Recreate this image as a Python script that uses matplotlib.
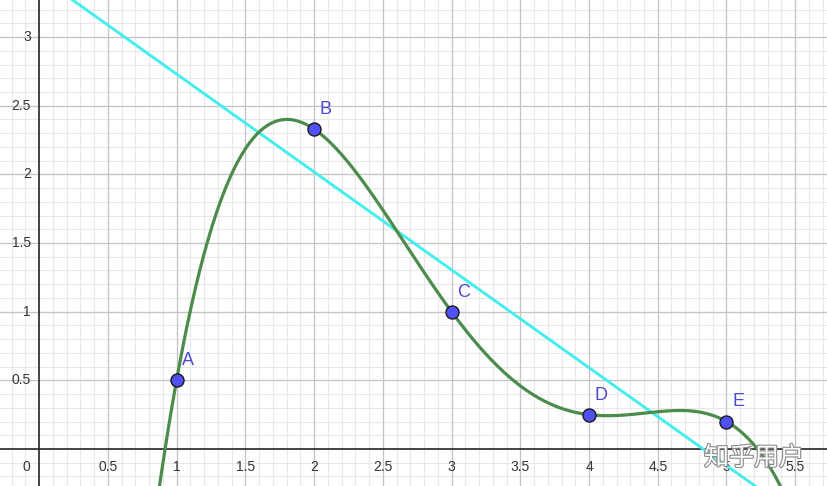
import numpy as np
import matplotlib
matplotlib.use("Agg")
import matplotlib.pyplot as plt
import matplotlib.patheffects as pe

# Data
point_names = ["A", "B", "C", "D", "E"]
point_x = [1, 2, 3, 4, 5]
point_y = [0.5, 2.33, 1.0, 0.25, 0.2]
line_slope = -0.713
line_intercept = 3.444
x_tick_vals = [0.5, 1, 1.5, 2, 2.5, 3, 3.5, 4, 4.5, 5, 5.5]
x_tick_labels = ["0.5", "1", "1.5", "2", "2.5", "3", "3.5", "4", "4.5", "5", "5.5"]
y_tick_vals = [0.5, 1, 1.5, 2, 2.5, 3]
y_tick_labels = ["0.5", "1", "1.5", "2", "2.5", "3"]

W, H = 827, 486
fig = plt.figure(figsize=(W / 100, H / 100), dpi=100)
ax = fig.add_axes([0, 0, 1, 1])
xmin, xmax = -0.284, 5.731
ymin, ymax = -0.2695, 3.270
ax.set_xlim(xmin, xmax)
ax.set_ylim(ymin, ymax)
ax.axis("off")

# Grid
for v in np.arange(-0.2, 5.8, 0.1):
    ax.axvline(v, color="#e8e8e8", lw=0.8, zorder=0)
for v in np.arange(-0.2, 3.3, 0.1):
    ax.axhline(v, color="#e8e8e8", lw=0.8, zorder=0)
for v in np.arange(0.5, 5.8, 0.5):
    ax.axvline(v, color="#c4c4c4", lw=0.9, zorder=0.5)
for v in np.arange(0.5, 3.3, 0.5):
    ax.axhline(v, color="#c4c4c4", lw=0.9, zorder=0.5)
ax.axvline(0, color="#262626", lw=1.2, zorder=1)
ax.axhline(0, color="#262626", lw=1.2, zorder=1)

# Tick labels
for v, s in zip(x_tick_vals, x_tick_labels):
    ax.annotate(s, (v, 0), xytext=(0, -8), textcoords="offset points",
                ha="center", va="top", fontsize=10, color="#333333",
                family="Liberation Sans")
for v, s in zip(y_tick_vals, y_tick_labels):
    ax.annotate(s, (0, v), xytext=(-6, 0), textcoords="offset points",
                ha="right", va="center", fontsize=10, color="#333333",
                family="Liberation Sans")
ax.annotate("0", (0, 0), xytext=(-6, -8), textcoords="offset points",
            ha="right", va="top", fontsize=10, color="#333333",
            family="Liberation Sans")

# Cyan line
lx = np.array([xmin, xmax])
ax.plot(lx, line_slope * lx + line_intercept, color="#45eeee", lw=2.1, zorder=3,
        solid_capstyle="butt")

# Green curve: interpolating polynomial through the points
coef = np.polyfit(point_x, point_y, len(point_x) - 1)
cx = np.linspace(xmin, xmax, 800)
ax.plot(cx, np.polyval(coef, cx), color="#4b8b4b", lw=2.3, zorder=4)

# Points
ax.scatter(point_x, point_y, s=88, color="#5050f5", edgecolor="#1a1a1a",
           linewidths=1.0, zorder=6)
for n, x, y in zip(point_names, point_x, point_y):
    ax.annotate(n, (x, y), xytext=(4, 8), textcoords="offset points",
                ha="left", va="bottom", fontsize=13, color="#4a4ad0",
                family="Liberation Sans", zorder=7)

# Watermark
ax.text(754 / W, 1 - 458 / H, "知乎用户", transform=ax.transAxes, ha="center",
        va="center", fontsize=18, color="white",
        family=["Noto Sans CJK SC", "DejaVu Sans"], zorder=8,
        path_effects=[pe.withStroke(linewidth=1.6, foreground="#8a8a8a")])

fig.savefig("out.png", dpi=100)
